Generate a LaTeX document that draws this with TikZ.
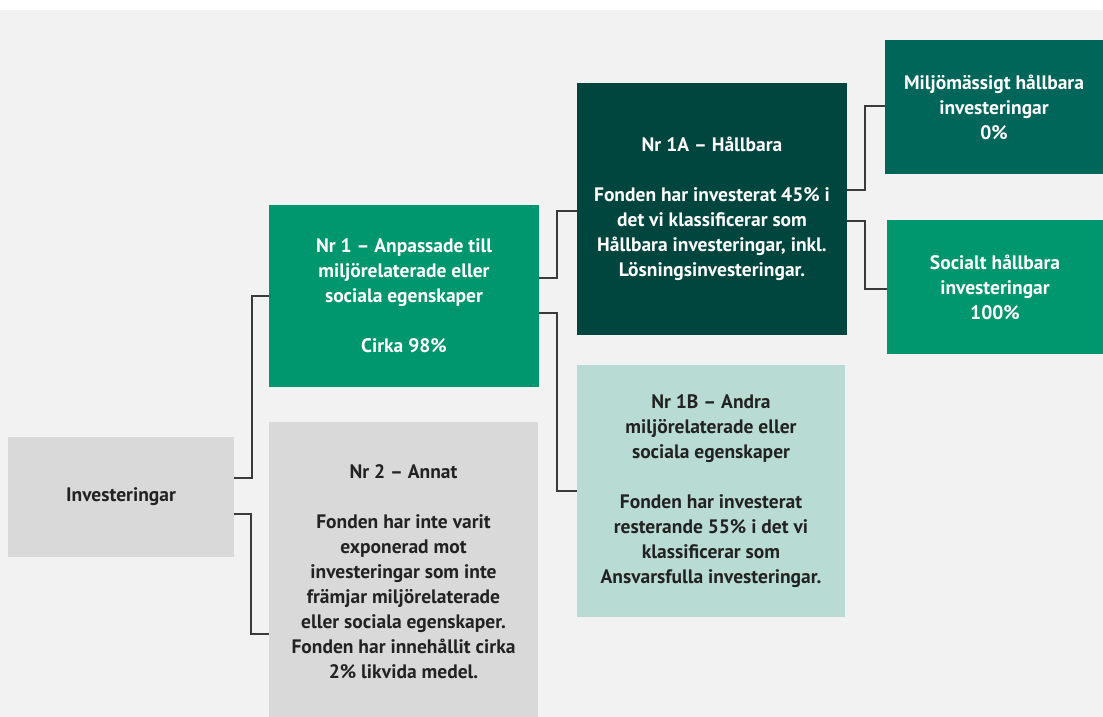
\documentclass[tikz,border=0pt]{standalone}
\usepackage{fontspec}
\setmainfont{PT Sans}
\definecolor{bg}{HTML}{F2F2F2}
\definecolor{greyBox}{HTML}{D9D9D9}
\definecolor{greenMid}{HTML}{00966E}
\definecolor{greenDark}{HTML}{00463F}
\definecolor{greenDeep}{HTML}{00665A}
\definecolor{greenLight}{HTML}{B8DCD3}
\definecolor{lineCol}{HTML}{3A3A3A}
\definecolor{txtDark}{HTML}{222222}
\begin{document}
\begin{tikzpicture}[x=1pt,y=-1pt,
  box/.style={draw=none, inner sep=0pt, outer sep=0pt, align=center,
    font=\bfseries\fontsize{19.5}{25}\selectfont},
  lightbox/.style={box, text=txtDark},
  darkbox/.style={box, text=white},
  conn/.style={draw=lineCol, line width=1.8pt}]
\useasboundingbox (0,0) rectangle (1103,717);
\fill[white] (0,0) rectangle (1103,717);
\fill[bg] (0,10) rectangle (1103,717);

\node[lightbox, fill=greyBox, minimum width=226pt, minimum height=120pt] (inv) at (121,497) {Investeringar};

\node[darkbox, fill=greenMid, minimum width=270pt, minimum height=182pt] (nr1) at (404,296)
  {Nr 1 – Anpassade till\\miljörelaterade eller\\sociala egenskaper\\[25pt]Cirka 98\%};

\node[lightbox, fill=greyBox, minimum width=269pt, minimum height=299pt] (nr2) at (403.5,571.5)
  {Nr 2 – Annat\\[25pt]Fonden har inte varit\\exponerad mot\\investeringar som inte\\främjar miljörelaterade\\eller sociala egenskaper.\\Fonden har innehållit cirka\\2\% likvida medel.};

\node[darkbox, fill=greenDark, minimum width=270pt, minimum height=252pt] (nr1a) at (712,209)
  {Nr 1A – Hållbara\\[25pt]Fonden har investerat 45\% i\\det vi klassificerar som\\Hållbara investeringar, inkl.\\Lösningsinvesteringar.};

\node[lightbox, fill=greenLight, minimum width=268pt, minimum height=252pt] (nr1b) at (711,491)
  {Nr 1B – Andra\\miljörelaterade eller\\sociala egenskaper\\[25pt]Fonden har investerat\\resterande 55\% i det vi\\klassificerar som\\Ansvarsfulla investeringar.};

\node[darkbox, fill=greenDeep, minimum width=218pt, minimum height=134pt] (miljo) at (994,107)
  {Miljömässigt hållbara\\investeringar\\0\%};

\node[darkbox, fill=greenMid, minimum width=216pt, minimum height=134pt] (soc) at (995,287)
  {Socialt hållbara\\investeringar\\100\%};

\draw[conn] ([yshift=19pt]inv.east) -- ++(18,0) |- (nr1.west);
\draw[conn] ([yshift=-17pt]inv.east) -- ++(17,0) |- ([yshift=-62.5pt]nr2.west);
\draw[conn] ([yshift=18pt]nr1.east) -- ++(18,0) |- ([yshift=-2pt]nr1a.west);
\draw[conn] ([yshift=-17pt]nr1.east) -- ++(18,0) |- (nr1b.west);
\draw[conn] ([yshift=19pt]nr1a.east) -- ++(18,0) |- ([yshift=1pt]miljo.west);
\draw[conn] ([yshift=-12pt]nr1a.east) -- ++(18,0) |- ([yshift=-2pt]soc.west);
\end{tikzpicture}
\end{document}
